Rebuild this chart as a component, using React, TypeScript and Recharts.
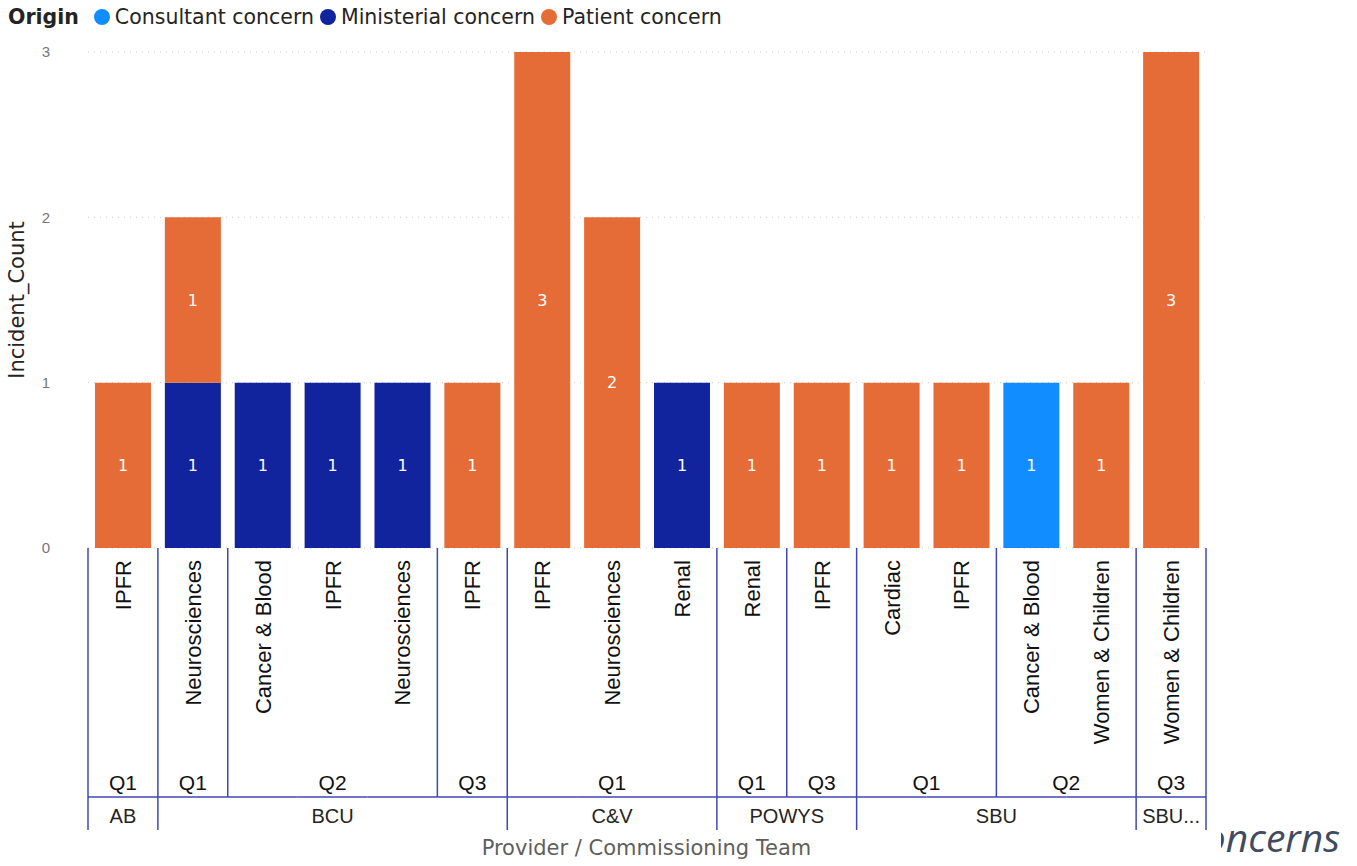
import { BarChart, Bar, XAxis, YAxis, CartesianGrid, LabelList } from 'recharts';

const providers = ['AB', 'BCU', 'BCU', 'BCU', 'BCU', 'BCU', 'C&V', 'C&V', 'C&V', 'POWYS', 'POWYS', 'SBU', 'SBU', 'SBU', 'SBU', 'SBU...'];
const quarters = ['Q1', 'Q1', 'Q2', 'Q2', 'Q2', 'Q3', 'Q1', 'Q1', 'Q1', 'Q1', 'Q3', 'Q1', 'Q1', 'Q2', 'Q2', 'Q3'];
const teams = [
  'IPFR', 'Neurosciences', 'Cancer & Blood', 'IPFR', 'Neurosciences', 'IPFR',
  'IPFR', 'Neurosciences', 'Renal', 'Renal', 'IPFR', 'Cardiac', 'IPFR',
  'Cancer & Blood', 'Women & Children', 'Women & Children',
];
const consultant = [0, 0, 0, 0, 0, 0, 0, 0, 0, 0, 0, 0, 0, 1, 0, 0];
const ministerial = [0, 1, 1, 1, 1, 0, 0, 0, 1, 0, 0, 0, 0, 0, 0, 0];
const patient = [1, 1, 0, 0, 0, 1, 3, 2, 0, 1, 1, 1, 1, 0, 1, 3];
const yTicks = [0, 1, 2, 3];

const series = [
  { key: 'consultant', name: 'Consultant concern', color: '#118DFF' },
  { key: 'ministerial', name: 'Ministerial concern', color: '#12239E' },
  { key: 'patient', name: 'Patient concern', color: '#E66C37' },
];

const data = teams.map((t, i) => ({
  id: i,
  team: t,
  consultant: consultant[i],
  ministerial: ministerial[i],
  patient: patient[i],
}));

const W = 1357;
const H = 866;
const PLOT_LEFT = 88;
const PLOT_RIGHT = 1206;
const PLOT_TOP = 52;
const PLOT_BOTTOM = 548;
const BW = (PLOT_RIGHT - PLOT_LEFT) / teams.length;
const LINE = '#3F48B0';
const AXIS_FONT = '"Liberation Sans", Arial, sans-serif';
const UI_FONT = '"DejaVu Sans", sans-serif';

const qKey = (i: number) => providers[i] + '|' + quarters[i];

function spanFrom(i: number, keyFn: (j: number) => string) {
  let n = 1;
  while (i + n < teams.length && keyFn(i + n) === keyFn(i)) n++;
  return n;
}

function TeamTick(props: any) {
  const { x, y, payload } = props;
  const i = payload.index;
  const left = x - BW / 2;
  const y0 = y;
  const qStart = i === 0 || qKey(i) !== qKey(i - 1);
  const pStart = i === 0 || providers[i] !== providers[i - 1];
  const last = i === teams.length - 1;
  return (
    <g fontFamily={AXIS_FONT}>
      <text
        transform={`translate(${x + 8}, ${y0 + 12}) rotate(-90)`}
        textAnchor="end"
        fontSize={22}
        fill="#111"
      >
        {teams[i]}
      </text>
      <line x1={left} x2={left + BW} y1={y0 + 249} y2={y0 + 249} stroke={LINE} strokeWidth={1.5} />
      {(qStart || pStart) && (
        <line x1={left} x2={left} y1={y0} y2={y0 + (pStart ? 282 : 249)} stroke={LINE} strokeWidth={1.5} />
      )}
      {last && (
        <line x1={left + BW} x2={left + BW} y1={y0} y2={y0 + 282} stroke={LINE} strokeWidth={1.5} />
      )}
      {qStart && (
        <text x={left + (spanFrom(i, qKey) * BW) / 2} y={y0 + 242} textAnchor="middle" fontSize={21} fill="#111">
          {quarters[i]}
        </text>
      )}
      {pStart && (
        <text
          x={left + (spanFrom(i, (j) => providers[j]) * BW) / 2}
          y={y0 + 275}
          textAnchor="middle"
          fontSize={20}
          fill="#252423"
        >
          {providers[i]}
        </text>
      )}
    </g>
  );
}

export default function App() {
  return (
    <div style={{ position: 'absolute', left: 0, top: 0, width: W, height: H, background: '#fff', overflow: 'hidden' }}>
      <div
        style={{
          position: 'absolute',
          left: 8,
          top: 5,
          display: 'flex',
          alignItems: 'center',
          fontFamily: UI_FONT,
          fontSize: 20.5,
          color: '#252423',
          whiteSpace: 'nowrap',
        }}
      >
        <span style={{ fontWeight: 700, marginRight: 15 }}>Origin</span>
        {series.map((s) => (
          <span key={s.key} style={{ display: 'flex', alignItems: 'center', marginRight: 6 }}>
            <span style={{ width: 16, height: 16, borderRadius: 8, background: s.color, marginRight: 5 }} />
            {s.name}
          </span>
        ))}
      </div>

      <BarChart
        width={W}
        height={H}
        data={data}
        margin={{ top: PLOT_TOP, right: W - PLOT_RIGHT, left: 0, bottom: 0 }}
        barCategoryGap="10%"
      >
        <CartesianGrid vertical={false} stroke="#c8c8c8" strokeDasharray="1 5" />
        <XAxis
          dataKey="id"
          height={H - PLOT_BOTTOM}
          interval={0}
          tickLine={false}
          axisLine={false}
          tickSize={0}
          tickMargin={0}
          tick={<TeamTick />}
        />
        <YAxis
          width={PLOT_LEFT}
          domain={[0, 3]}
          ticks={yTicks}
          tickLine={false}
          axisLine={false}
          tickMargin={32}
          tick={{ fill: '#777', fontSize: 15, fontFamily: AXIS_FONT }}
          label={{
            value: 'Incident_Count',
            angle: -90,
            position: 'insideLeft',
            offset: 17,
            style: { textAnchor: 'middle', fill: '#252423', fontSize: 21, fontFamily: UI_FONT },
          }}
        />
        {series.map((s) => (
          <Bar key={s.key} dataKey={s.key} name={s.name} stackId="a" fill={s.color} isAnimationActive={false}>
            <LabelList
              dataKey={s.key}
              position="center"
              fill="#fff"
              fontSize={16}
              fontFamily={UI_FONT}
              formatter={(v: any) => (v ? v : '')}
            />
          </Bar>
        ))}
      </BarChart>

      <div
        style={{
          position: 'absolute',
          left: 0,
          width: W,
          top: 836,
          textAlign: 'center',
          fontFamily: UI_FONT,
          fontSize: 21,
          color: '#605E5C',
        }}
      >
        <span style={{ position: 'relative', left: -32 }}>Provider / Commissioning Team</span>
      </div>

      <div style={{ position: 'absolute', left: 1221, top: 812, width: 119, height: 54, overflow: 'hidden' }}>
        <span
          style={{
            position: 'absolute',
            right: 0,
            top: 0,
            whiteSpace: 'nowrap',
            fontFamily: '"Open Sans", sans-serif',
            fontStyle: 'italic',
            fontSize: 39,
            lineHeight: '50px',
            color: '#3F4B5E',
          }}
        >
          oncerns
        </span>
      </div>
    </div>
  );
}
